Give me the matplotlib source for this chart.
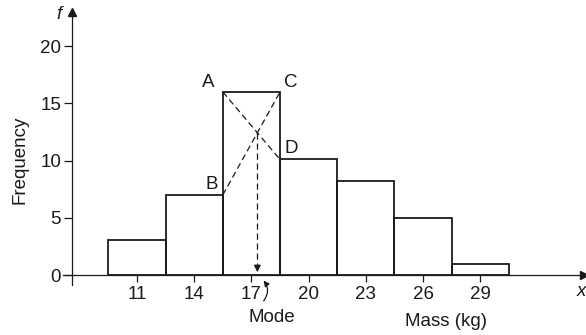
import numpy as np
import matplotlib.pyplot as plt

plt.rcParams['font.family'] = ['Liberation Sans', 'DejaVu Sans']

# histogram data
edges = [9.5, 12.5, 15.5, 18.5, 21.5, 24.5, 27.5, 30.5]
freq = [3.1, 7, 16, 10.1, 8.2, 5, 1]
xticks = [11, 14, 17, 20, 23, 26, 29]
yticks = [0, 5, 10, 15, 20]

ink = '#1a1a1a'
fs = 13.5

fig = plt.figure(figsize=(5.86, 3.35), dpi=100)
ax = fig.add_axes([0, 0, 1, 1])
ax.set_xlim(3.816, 34.545)
ax.set_ylim(-5.245, 24.04)

# bars
widths = np.diff(edges)
ax.bar(edges[:-1], freq, width=widths, align='edge', fill=False,
       edgecolor=ink, linewidth=1.3, zorder=3)

# modal class construction
i = int(np.argmax(freq))
xl, xr = edges[i], edges[i + 1]
A = (xl, freq[i]); C = (xr, freq[i])
B = (xl, freq[i - 1]); D = (xr, freq[i + 1])
ax.plot([A[0], D[0]], [A[1], D[1]], ls=(0, (5, 3)), color=ink, lw=0.9)
ax.plot([B[0], C[0]], [B[1], C[1]], ls=(0, (5, 3)), color=ink, lw=0.9)
# intersection of AD and BC
m1 = (D[1] - A[1]) / (xr - xl)
m2 = (C[1] - B[1]) / (xr - xl)
xm = xl + (B[1] - A[1]) / (m1 - m2)
ym = A[1] + m1 * (xm - xl)
ax.plot([xm, xm], [ym, 0.6], ls=(0, (5, 3)), color=ink, lw=0.9)
ax.annotate('', xy=(xm, 0), xytext=(xm, 1.0),
            arrowprops=dict(arrowstyle='-|>', color=ink, lw=0.9,
                            mutation_scale=10))

ax.text(A[0] - 0.45, A[1] + 0.1, 'A', fontsize=fs, ha='right', va='bottom', color=ink)
ax.text(C[0] + 0.2, C[1] + 0.1, 'C', fontsize=fs, ha='left', va='bottom', color=ink)
ax.text(D[0] + 0.25, D[1] + 0.2, 'D', fontsize=fs, ha='left', va='bottom', color=ink)
ax.text(B[0] - 0.25, B[1] + 0.2, 'B', fontsize=fs, ha='right', va='bottom', color=ink)

# axes
x0 = 7.6
ax.spines['left'].set_position(('data', x0))
ax.spines['bottom'].set_position(('data', 0))
ax.spines['right'].set_visible(False)
ax.spines['top'].set_visible(False)
ax.spines['left'].set_bounds(-0.9, 23)
ax.spines['bottom'].set_bounds(7.1, 34.545)
for s in ('left', 'bottom'):
    ax.spines[s].set_color(ink)
    ax.spines[s].set_linewidth(0.9)
ax.plot(x0, 23, marker='^', color=ink, ms=6, clip_on=False)
ax.plot(34.45, 0, marker='>', color=ink, ms=6, clip_on=False)

ax.set_xticks(xticks)
ax.set_yticks(yticks)
ax.tick_params(axis='x', direction='out', length=5, width=0.9, color=ink,
               labelsize=fs, pad=3, labelcolor=ink)
ax.tick_params(axis='y', direction='out', length=6, width=0.9, color=ink,
               labelsize=fs, pad=2, labelcolor=ink)

ax.text(4.85, 10.05, 'Frequency', rotation=90, fontsize=fs, ha='center',
        va='center', color=ink)
ax.text(6.9, 22.8, 'f', fontsize=fs, style='italic', ha='center', va='center', color=ink)
ax.text(34.54, -1.4, 'x', fontsize=fs, style='italic', ha='right', va='center', color=ink)
ax.text(27.2, -4.1, 'Mass (kg)', fontsize=fs, ha='center', va='center', color=ink)
ax.text(18.05, -3.75, 'Mode', fontsize=fs, ha='center', va='center', color=ink)
ax.annotate('', xy=(17.55, -0.3), xytext=(17.55, -2.45),
            arrowprops=dict(arrowstyle='-|>', color=ink, lw=0.9,
                            mutation_scale=8, connectionstyle='arc3,rad=0.45'))

fig.savefig('out.png', dpi=100)
